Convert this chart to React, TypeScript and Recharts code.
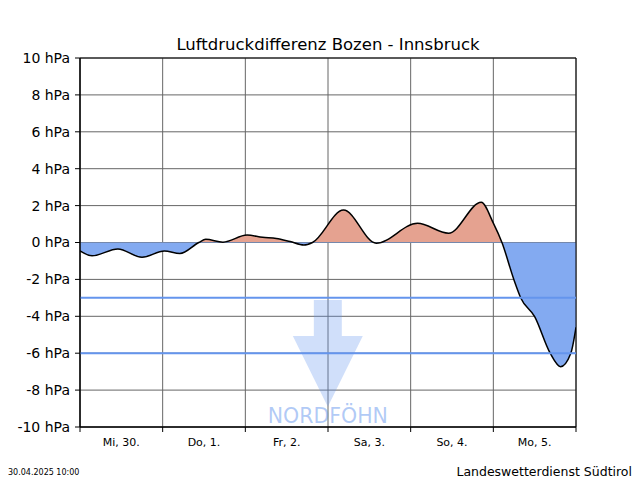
import React from 'react';
import {
  ComposedChart,
  Area,
  XAxis,
  YAxis,
  CartesianGrid,
  ReferenceLine,
  ReferenceArea,
} from 'recharts';

// Hours since Mi, 30. 00:00 and pressure difference (hPa)
const hours = [0, 3.5, 11, 18, 24.5, 29, 34.5, 36.5, 41.5, 48.5, 53, 57, 61, 65, 67.5, 76.5, 86, 98, 107, 116.5, 120, 122.5, 126, 128, 132, 136.5, 139.5, 142.5, 144];
const pressureDiff = [-0.45, -0.72, -0.35, -0.8, -0.46, -0.6, 0, 0.17, 0.02, 0.4, 0.28, 0.22, 0.05, -0.14, 0, 1.76, -0.04, 1.04, 0.5, 2.18, 1.05, 0, -2.03, -3.02, -4.02, -6, -6.73, -6, -4.6];

const dayBoundaries = [0, 24, 48, 72, 96, 120, 144];
const dayCenters = [12, 36, 60, 84, 108, 132];
const dayLabels = ['Mi, 30.', 'Do, 1.', 'Fr, 2.', 'Sa, 3.', 'So, 4.', 'Mo, 5.'];
const yTicks = [-10, -8, -6, -4, -2, 0, 2, 4, 6, 8, 10];
const thresholds = [-3, -6];

// Arrow annotation extent (data units)
const arrowX = [61.8, 82.1];
const arrowY = [-8.9, -3.12];

const data = hours.map((h, i) => ({ h, v: pressureDiff[i] }));

const FONT = 'DejaVu Sans, sans-serif';

const ArrowShape = (props: any) => {
  const { x, y, width, height } = props;
  if (x == null || y == null) return null;
  const cx = x + width / 2;
  const shaftHalf = width * 0.2;
  const headTop = y + height * 0.337;
  const pts = [
    [cx - shaftHalf, y],
    [cx + shaftHalf, y],
    [cx + shaftHalf, headTop],
    [x + width, headTop],
    [cx, y + height],
    [x, headTop],
    [cx - shaftHalf, headTop],
  ]
    .map((p) => p.join(','))
    .join(' ');
  return (
    <g>
      <polygon points={pts} fill="#6495ed" fillOpacity={0.3} stroke="none" />
      <text
        x={cx}
        y={y + height + 16.5}
        textAnchor="middle"
        fontFamily={FONT}
        fontSize={20.5}
        fill="#6495ed"
        fillOpacity={0.5}
      >
        NORDFÖHN
      </text>
    </g>
  );
};

export default function App() {
  return (
    <div style={{ position: 'absolute', left: 0, top: 0, width: 640, height: 480, background: '#fff' }}>
      <ComposedChart
        width={640}
        height={480}
        data={data}
        margin={{ top: 58, right: 64, bottom: 18, left: 0 }}
      >
        <defs>
          <linearGradient id="pdFill" gradientUnits="userSpaceOnUse" x1="0" y1="58" x2="0" y2="427">
            <stop offset="0.5" stopColor="#e5a290" />
            <stop offset="0.5" stopColor="#83aaf1" />
          </linearGradient>
        </defs>
        <CartesianGrid xAxisId="a" stroke="#666" strokeWidth={1} />
        <XAxis
          xAxisId="a"
          dataKey="h"
          type="number"
          domain={[0, 144]}
          ticks={dayBoundaries}
          interval={0}
          allowDataOverflow
          tickFormatter={() => ''}
          tickSize={5}
          tickMargin={0}
          height={5}
          tickLine={{ stroke: '#000' }}
          axisLine={{ stroke: '#000' }}
        />
        <XAxis
          xAxisId="b"
          dataKey="h"
          type="number"
          domain={[0, 144]}
          ticks={dayCenters}
          tickFormatter={(v: number) => dayLabels[dayCenters.indexOf(v)] ?? ''}
          axisLine={false}
          tickLine={false}
          tickSize={0}
          tickMargin={6}
          height={30}
          interval={0}
          tick={{ fill: '#000', fontSize: 11, fontFamily: FONT }}
        />
        <YAxis
          type="number"
          domain={[-10, 10]}
          ticks={yTicks}
          interval={0}
          width={80}
          tickSize={5}
          tickMargin={5}
          tickFormatter={(v: number) => `${v} hPa`}
          tick={{ fill: '#000', fontSize: 14, fontFamily: FONT }}
          tickLine={{ stroke: '#000' }}
          axisLine={{ stroke: '#000' }}
        />
        <Area
          xAxisId="a"
          type="monotone"
          dataKey="v"
          baseValue={0}
          stroke="#000"
          strokeWidth={1.5}
          fill="url(#pdFill)"
          fillOpacity={1}
          isAnimationActive={false}
          dot={false}
          activeDot={false}
        />
        <ReferenceArea
          xAxisId="a"
          x1={arrowX[0]}
          x2={arrowX[1]}
          y1={arrowY[0]}
          y2={arrowY[1]}
          shape={(p: any) => <ArrowShape {...p} />}
        />
        {thresholds.map((t) => (
          <ReferenceLine key={t} xAxisId="a" y={t} stroke="#6495ed" strokeWidth={2} />
        ))}
        <ReferenceArea
          xAxisId="a"
          x1={0}
          x2={144}
          y1={-10}
          y2={10}
          fill="none"
          fillOpacity={0}
          stroke="#000"
          strokeWidth={1}
        />
      </ComposedChart>
      <svg
        width={640}
        height={480}
        style={{ position: 'absolute', left: 0, top: 0, pointerEvents: 'none' }}
      >
        <text x={328} y={50} textAnchor="middle" fontFamily={FONT} fontSize={16.5} fill="#000">
          Luftdruckdifferenz Bozen - Innsbruck
        </text>
        <text x={8} y={475} fontFamily={FONT} fontSize={8} fill="#000">
          30.04.2025 10:00
        </text>
        <text x={632} y={476} textAnchor="end" fontFamily={FONT} fontSize={12.5} fill="#000">
          Landeswetterdienst Südtirol
        </text>
      </svg>
    </div>
  );
}
